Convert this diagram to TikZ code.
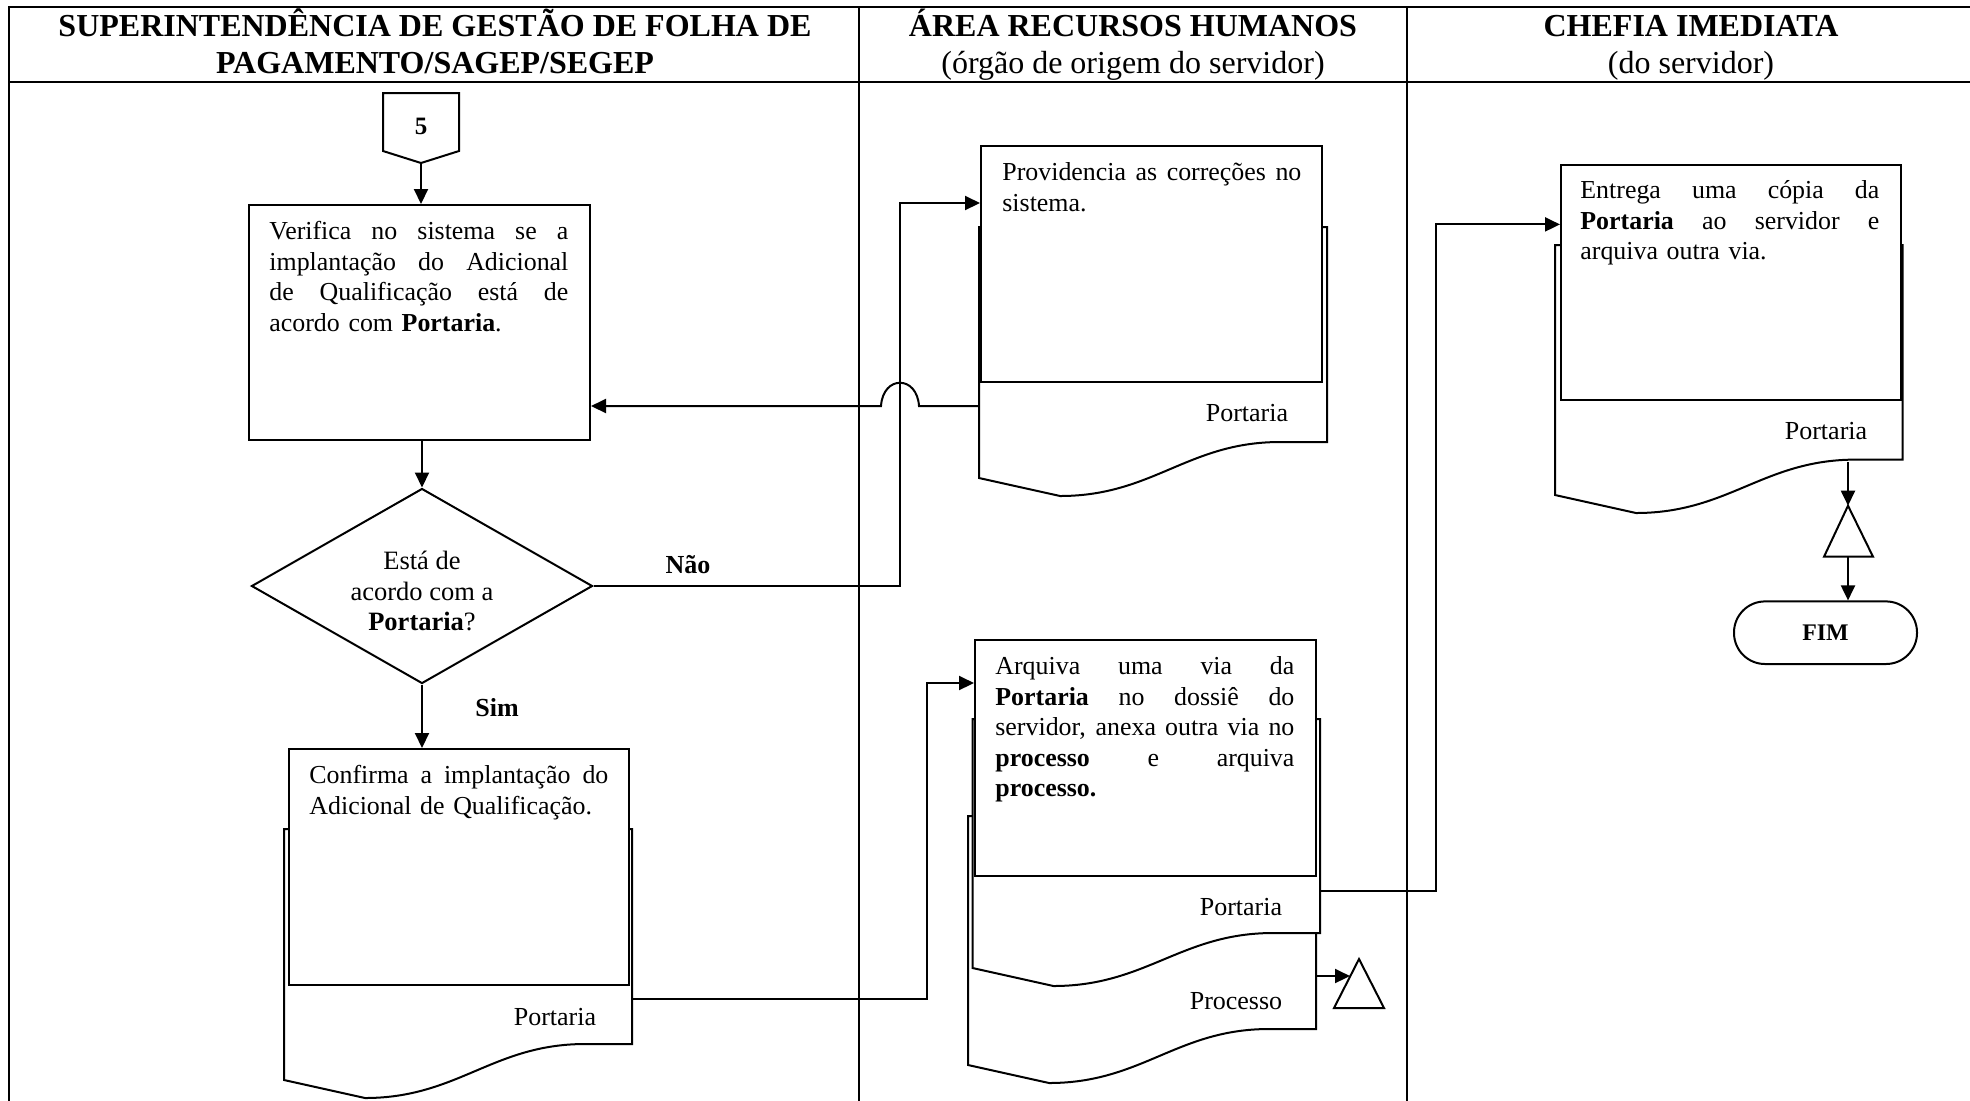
\documentclass[tikz,border=0pt]{standalone}
\usepackage{fontspec}
\setmainfont{Liberation Serif}
\usetikzlibrary{arrows.meta,shapes.geometric,calc}

\newlength\boxtextwidth
\setlength\boxtextwidth{149.5pt}

\tikzset{
  grid line/.style={line width=1pt},
  conn/.style={line width=1pt},
  arr/.style={conn,-{Triangle[length=7.5pt,width=7pt]}},
  pbox/.style={draw,fill=white,line width=1pt,inner sep=0pt,anchor=north west},
  docpath/.style={draw,fill=white,line width=1pt},
  hdr/.style={font=\fontsize{16pt}{18.5pt}\selectfont,inner sep=0pt,anchor=base},
  hdrb/.style={font=\fontsize{16pt}{18.5pt}\selectfont\bfseries,inner sep=0pt,anchor=base},
  body/.style={font=\fontsize{12.95pt}{15.3pt}\selectfont,
    inner sep=0pt,anchor=north west,text width=\boxtextwidth},
  lbl/.style={font=\fontsize{13pt}{15pt}\selectfont,inner sep=0pt},
  blbl/.style={font=\fontsize{13pt}{15pt}\selectfont\bfseries,inner sep=0pt},
}

% one justified line of box text, its word spaces stretched to the full width
\newcommand\jl[1]{\noindent\makebox[\boxtextwidth][s]{%
  \spaceskip=\fontdimen2\font plus 1fill\relax\strut #1}\par}

% document symbol: left, top, right, right corner y, left corner y
\newcommand\docshape[5]{%
  \draw[docpath] (#1,#2) -- (#3,#2) -- (#3,#4) -- ({#1+0.865*(#3-#1)},#4)
    .. controls ({#1+0.6*(#3-#1)},#4) and ({#1+0.5*(#3-#1)},{#5+18}) ..
    ({#1+0.233*(#3-#1)},{#5+18}) -- (#1,#5) -- cycle;}

\begin{document}
\begin{tikzpicture}[x=0.5pt,y=-0.5pt]
\useasboundingbox (0,0) rectangle (1970,1100);
\clip (0,0) rectangle (1970,1100);

% swimlane table
\draw[grid line] (9,1110) -- (9,7) -- (1980,7);
\draw[grid line] (9,82) -- (1980,82);
\draw[grid line] (859,7) -- (859,1110);
\draw[grid line] (1407,7) -- (1407,1110);

% lane headings
\node[hdrb] (h1a) at (435,36.5) {SUPERINTENDÊNCIA DE GESTÃO DE FOLHA DE};
\node[hdrb] (h1b) at (435,73) {PAGAMENTO/SAGEP/SEGEP};
\node[hdrb] (h2a) at (1133,36.5) {ÁREA RECURSOS HUMANOS};
\node[hdr]  (h2b) at (1133,73) {(órgão de origem do servidor)};
\node[hdrb] (h3a) at (1691,36.5) {CHEFIA IMEDIATA};
\node[hdr]  (h3b) at (1691,73) {(do servidor)};

% off-page connector 5
\draw[conn,fill=white] (383,93) -- (459,93) -- (459,151) -- (421,163) -- (383,151) -- cycle;
\node[blbl,font=\fontsize{12.5pt}{15pt}\selectfont\bfseries] (p5) at (421,126) {5};
\coordinate (p5tip) at (421,163);

% documents (drawn behind the process boxes)
\docshape{979}{227}{1327}{442}{478}
\docshape{284}{829}{632}{1044}{1080}
\docshape{968}{816}{1316}{1029}{1065}
\docshape{972.5}{719}{1320}{933}{968}
\docshape{1555}{245}{1902.5}{459.6}{495}

% process boxes
\node[pbox,minimum width=170.5pt,minimum height=117.5pt] (b1) at (248,204) {};
\node[pbox,minimum width=170.5pt,minimum height=118pt]   (b2) at (980,145) {};
\node[pbox,minimum width=170pt,minimum height=118pt]     (b3) at (288,748) {};
\node[pbox,minimum width=170.5pt,minimum height=118pt]   (b4) at (974,639) {};
\node[pbox,minimum width=170pt,minimum height=117.5pt]   (b5) at (1560,164) {};

% box texts
\node[body] (t1) at (269,217.6) {\jl{Verifica no sistema se a}\jl{implantação do Adicional}%
  \jl{de Qualificação está de}\noindent\strut acordo com \textbf{Portaria}.};
\node[body] (t2) at (1002,158.6) {\jl{Providencia as correções no}\noindent\strut sistema.};
\node[body] (t3) at (309,762) {\jl{Confirma a implantação do}%
  \noindent\strut Adicional de Qualificação.};
\node[body] (t4) at (995,652.6) {\jl{Arquiva uma via da}\jl{\textbf{Portaria} no dossiê do}%
  \jl{servidor, anexa outra via no}\jl{\textbf{processo} e arquiva}%
  \noindent\strut\textbf{processo.}};
\node[body] (t5) at (1580,176.6) {\jl{Entrega uma cópia da}\jl{\textbf{Portaria} ao servidor e}%
  \noindent\strut arquiva outra via.};

% document labels
\node[lbl] (l2) at (1247,413) {Portaria};
\node[lbl] (l3) at (555,1017) {Portaria};
\node[lbl] (l4) at (1241,907) {Portaria};
\node[lbl] (l5) at (1236,1001) {Processo};
\node[lbl] (l6) at (1826,431) {Portaria};

% decision
\node[draw,diamond,aspect=1.75,line width=1pt,fill=white,inner sep=0pt,
  minimum width=170.5pt,minimum height=97.5pt] (dec) at (422,586) {};
\node[align=center,inner sep=0pt,font=\fontsize{13.25pt}{15.25pt}\selectfont]
  (dect) at (422,591) {Está de\\acordo com a\\\textbf{Portaria}?};
\node[blbl] (nao) at (688,565) {Não};
\node[blbl] (sim) at (497,708) {Sim};

% archive triangles
\draw[conn,fill=white] (1359,959) -- (1384,1008) -- (1334,1008) -- cycle;
\draw[conn,fill=white] (1848,505.7) -- (1873,556.7) -- (1824,556.7) -- cycle;
\coordinate (tri1w) at (1350,976);
\coordinate (tri2top) at (1848,505.7);
\coordinate (tri2bot) at (1848,556.7);

% terminator
\node[draw,rounded corners=15.5pt,line width=1pt,minimum width=91.5pt,minimum height=31.3pt,
  inner sep=0pt,font=\fontsize{11.9pt}{14pt}\selectfont\bfseries] (fim) at (1825.5,632.7) {FIM};

% connector end points on the documents and boxes
\coordinate (b2in) at ($(b2.north west)+(0,58)$);
\coordinate (b4in) at ($(b4.north west)+(0,44)$);
\coordinate (b5in) at ($(b5.north west)+(0,60.4)$);
\coordinate (d2w) at (979,406);
\coordinate (d3e) at (632,999);
\coordinate (d4e) at (1320,891);
\coordinate (d5e) at (1316,976);
\coordinate (d6s) at (1848,462);

% connectors
\draw[arr] (p5tip) -- (p5tip |- b1.north);
\draw[arr] (dec.north |- b1.south) -- (dec.north);
\draw[arr] (dec.south) -- (dec.south |- b3.north);
\draw[arr] (dec.east) -| ($(b2in)+(-80,0)$) -- (b2in);
\draw[arr] (d2w) -- (919,406) .. controls (917,375) and (883,375) .. (881,406)
  -- (b1.east |- d2w);
\draw[arr] (d3e) -| ($(b4in)+(-47,0)$) -- (b4in);
\draw[arr] (d4e) -| ($(b5in)+(-124,0)$) -- (b5in);
\draw[arr] (d5e) -- (tri1w);
\draw[arr] (d6s) -- (tri2top);
\draw[arr] (tri2bot) -- (tri2bot |- fim.north);
\end{tikzpicture}
\end{document}
